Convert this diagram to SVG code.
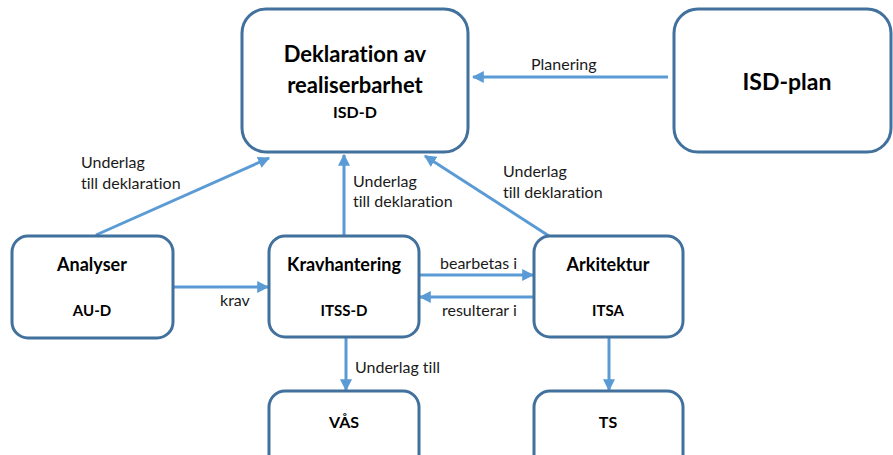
<svg xmlns="http://www.w3.org/2000/svg" width="893" height="455" viewBox="0 0 893 455">
  <style>
    text { font-variant-ligatures: none; font-feature-settings: "liga" 0; }
    .box { fill: #ffffff; stroke: #41719c; stroke-width: 3; }
    .title { font-family: Lato, "Liberation Sans", sans-serif; font-weight: bold; fill: #000000; text-anchor: middle; }
    .lbl { font-family: Lato, "Liberation Sans", sans-serif; font-size: 16px; fill: #1a1a1a; }
    .conn { stroke: #5b9bd5; stroke-width: 3; fill: none; marker-end: url(#arrow); }
  </style>
  <defs>
    <marker id="arrow" viewBox="0 0 10 10" refX="9" refY="5" markerWidth="4" markerHeight="4" orient="auto" markerUnits="strokeWidth">
      <path d="M0,0 L10,5 L0,10 Z" fill="#5b9bd5"/>
    </marker>
  </defs>
  <rect width="893" height="455" fill="#ffffff"/>

  <g id="connectors">
    <line class="conn" x1="668" y1="77" x2="473" y2="77"/>
    <line class="conn" x1="96" y1="235" x2="269" y2="158"/>
    <line class="conn" x1="344" y1="236" x2="344" y2="155"/>
    <line class="conn" x1="549" y1="236" x2="425" y2="156"/>
    <line class="conn" x1="173" y1="287" x2="268" y2="287"/>
    <line class="conn" x1="419" y1="275" x2="533" y2="275"/>
    <line class="conn" x1="534" y1="297" x2="420" y2="297"/>
    <line class="conn" x1="346" y1="337" x2="346" y2="390"/>
    <line class="conn" x1="609" y1="337" x2="609" y2="390"/>
    <text class="lbl" x="531" y="70">Planering</text>
    <text class="lbl" x="81" y="168">Underlag</text>
    <text class="lbl" x="81" y="189">till deklaration</text>
    <text class="lbl" x="353" y="187">Underlag</text>
    <text class="lbl" x="353" y="207">till deklaration</text>
    <text class="lbl" x="503" y="177">Underlag</text>
    <text class="lbl" x="503" y="198">till deklaration</text>
    <text class="lbl" x="220" y="306">krav</text>
    <text class="lbl" x="440" y="269">bearbetas i</text>
    <text class="lbl" x="442" y="316">resulterar i</text>
    <text class="lbl" x="355" y="373">Underlag till</text>
  </g>

  <g id="isd-d">
    <rect class="box" x="242" y="9" width="226" height="143" rx="24"/>
    <text class="title" x="355" y="62" font-size="22">Deklaration av</text>
    <text class="title" x="355" y="93" font-size="22">realiserbarhet</text>
    <text class="title" x="355" y="118" font-size="16">ISD-D</text>
  </g>

  <g id="isd-plan">
    <rect class="box" x="674" y="9" width="217" height="143" rx="24"/>
    <text class="title" x="787" y="90" font-size="23">ISD-plan</text>
  </g>

  <g id="analyser">
    <rect class="box" x="12" y="236" width="161" height="102" rx="16"/>
    <text class="title" x="92" y="271" font-size="18">Analyser</text>
    <text class="title" x="92" y="316" font-size="15">AU-D</text>
  </g>

  <g id="kravhantering">
    <rect class="box" x="269" y="236" width="150" height="101" rx="16"/>
    <text class="title" x="344" y="271" font-size="18">Kravhantering</text>
    <text class="title" x="344" y="316" font-size="15">ITSS-D</text>
  </g>

  <g id="arkitektur">
    <rect class="box" x="534" y="236" width="149" height="101" rx="16"/>
    <text class="title" x="608" y="271" font-size="18">Arkitektur</text>
    <text class="title" x="608" y="316" font-size="15">ITSA</text>
  </g>

  <g id="vas">
    <rect class="box" x="269" y="391" width="150" height="80" rx="16"/>
    <text class="title" x="344" y="428" font-size="16">VÅS</text>
  </g>

  <g id="ts">
    <rect class="box" x="534" y="391" width="149" height="80" rx="16"/>
    <text class="title" x="608" y="428" font-size="16">TS</text>
  </g>
</svg>
